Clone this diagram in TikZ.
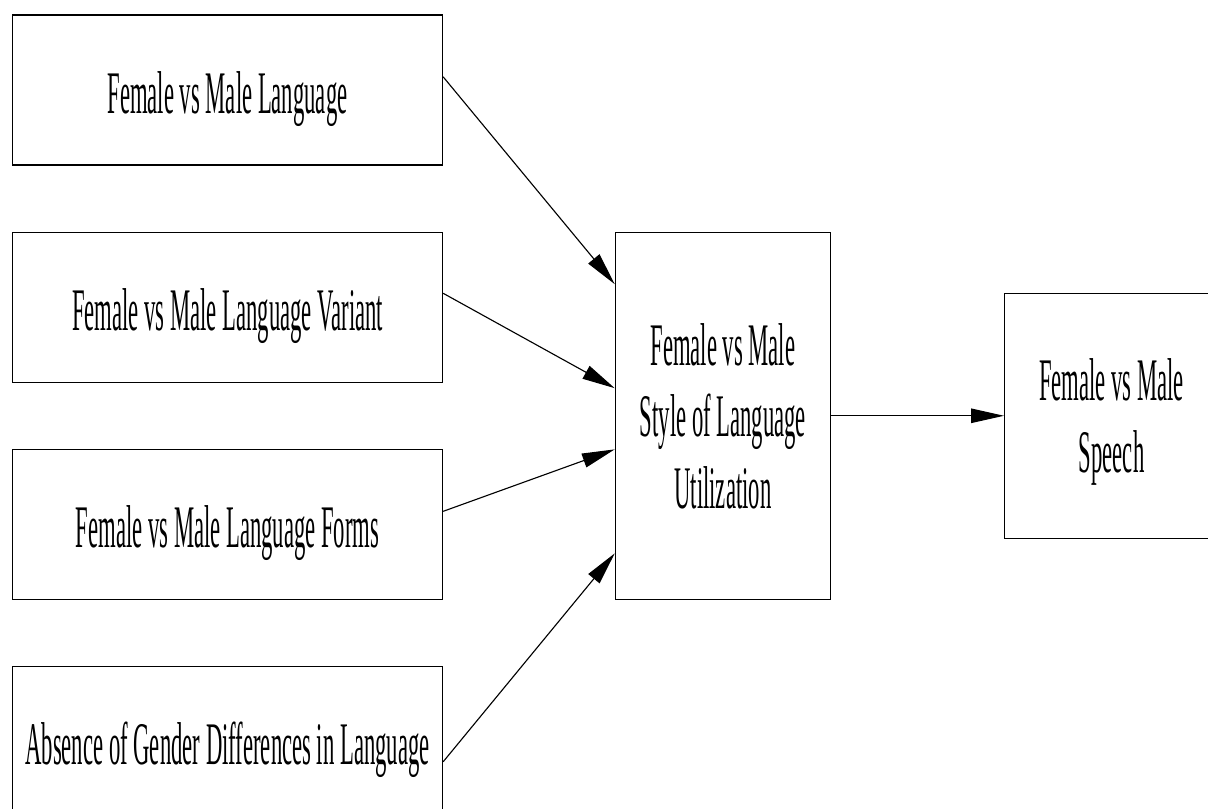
\documentclass[tikz,border=0pt]{standalone}
\usepackage{fontspec}
\newfontfamily\boxfont[FakeStretch=0.375]{Liberation Serif}
\usetikzlibrary{arrows.meta, positioning}

\begin{document}
\begin{tikzpicture}[font=\boxfont\fontsize{43}{51}\selectfont, node distance=1.65cm,
  box/.style={draw, line width=0.9pt, minimum width=10.75cm, minimum height=3.75cm, inner sep=0pt},
  onebox/.style={box, text height=1.15cm, text depth=0pt},
  link/.style={-{Triangle[length=0.82cm, width=0.36cm]}, line width=0.8pt}]
\useasboundingbox (0,0) rectangle (30.2,-20.2);
\clip (0,0) rectangle (30.2,-20.2);
\node (lang) [onebox] at (5.6875,-2.25) {Female vs Male Language};
\node (variant) [onebox, below=of lang] {Female vs Male Language Variant};
\node (forms) [onebox, below=of variant] {Female vs Male Language Forms};
\node (absence) [onebox, below=of forms] {Absence of Gender Differences in Language};
\node (style) [box, align=center, text depth=0pt, minimum width=5.375cm, minimum height=9.175cm, anchor=north west]
  at ([xshift=4.29cm]variant.north east) {Female vs Male\\Style of Language\\Utilization};
\node (speech) [box, align=center, text depth=0pt, minimum width=5.35cm, minimum height=6.125cm, right=4.325cm of style]
  {Female vs Male\\Speech};

\draw[link] ([yshift=0.33cm]lang.east) -- ([yshift=3.29cm]style.west);
\draw[link] ([yshift=0.35cm]variant.east) -- ([yshift=0.69cm]style.west);
\draw[link] ([yshift=0.33cm]forms.east) -- ([yshift=-0.84cm]style.west);
\draw[link] ([yshift=-0.5cm]absence.east) -- ([yshift=-3.44cm]style.west);
\draw[link] (style) -- (speech);
\end{tikzpicture}
\end{document}
